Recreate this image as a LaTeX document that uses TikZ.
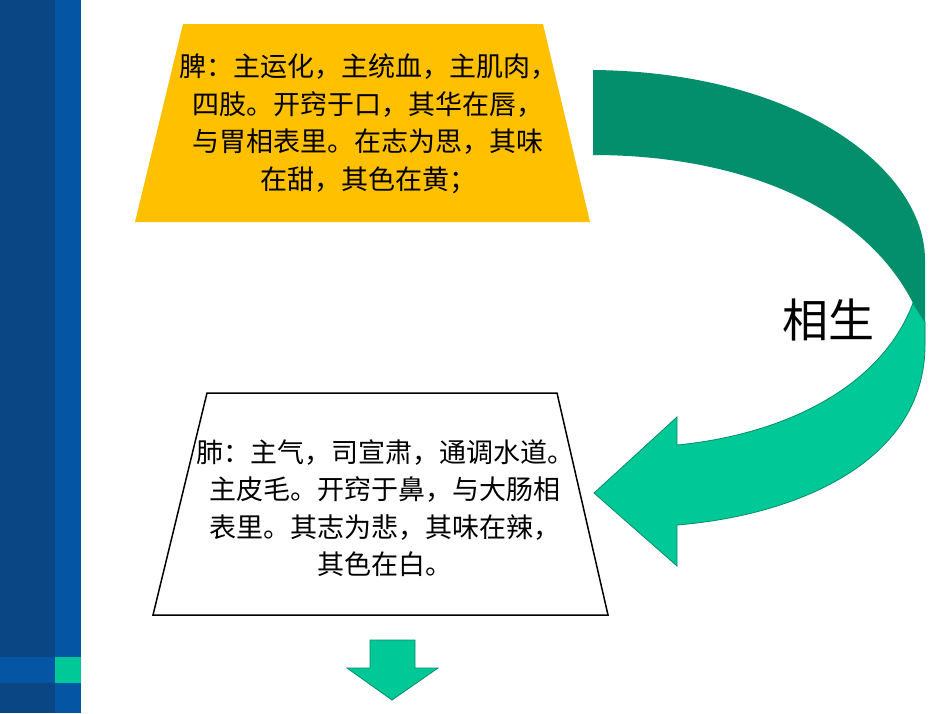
\documentclass[tikz,border=0pt]{standalone}
\usepackage{fontspec}
\newfontfamily\cjk{Noto Sans CJK SC}
\definecolor{darkbar}{HTML}{0A4684}
\definecolor{midbar}{HTML}{0455A4}
\definecolor{teal}{HTML}{00C896}
\definecolor{darkgreen}{HTML}{038E6C}
\definecolor{gold}{HTML}{FFC000}
\tikzset{bodytext/.style={font=\cjk\fontsize{27}{37.5}\selectfont, align=center, inner sep=0pt}}
\begin{document}
\begin{tikzpicture}[x=1pt,y=-1pt]
\useasboundingbox (0,0) rectangle (950,713);
\fill[white] (0,0) rectangle (950,713);
% left bar
\fill[darkbar] (0,0) rectangle (55,713);
\fill[midbar] (55,0) rectangle (81,713);
\fill[midbar] (0,657) rectangle (55,683);
\fill[teal] (55,657) rectangle (81,683);
% yellow trapezoid
\fill[gold] (183,24) -- (543,24) -- (590,222) -- (135,222) -- cycle;
\node[bodytext] (spleen) at (368,124) {脾：主运化，主统血，主肌肉，\\四肢。开窍于口，其华在唇，\\与胃相表里。在志为思，其味\\在甜，其色在黄；};
% white trapezoid
\draw[black, line width=1.5pt] (207,393) -- (557,393) -- (608,615) -- (153,615) -- cycle;
\node[bodytext] (lung) at (385,508) {肺：主气，司宣肃，通调水道。\\主皮毛。开窍于鼻，与大肠相\\表里。其志为悲，其味在辣，\\其色在白。};
% curved arrow
\fill[darkgreen] (593,70) .. controls (800,72) and (925,170) .. (925,260) -- (925,345) -- (913,303) .. controls (860,200) and (730,155) .. (593,155) -- cycle;
\filldraw[fill=teal, draw=darkgreen, line width=0.8pt] (913,303) -- (925,322) -- (925,345) .. controls (925,460) and (800,515) .. (677,525) -- (677,566) -- (594,493) -- (677,417) -- (677,445) .. controls (780,435) and (880,390) .. (913,303) -- cycle;
\node[font=\cjk\fontsize{46}{50}\selectfont, inner sep=0pt] (xs) at (828,320) {相生};
% down arrow
\filldraw[fill=teal, draw=darkgreen, line width=0.8pt] (370,640) -- (415,640) -- (415,668) -- (438,668) -- (392,700) -- (347,668) -- (370,668) -- cycle;
\end{tikzpicture}
\end{document}
